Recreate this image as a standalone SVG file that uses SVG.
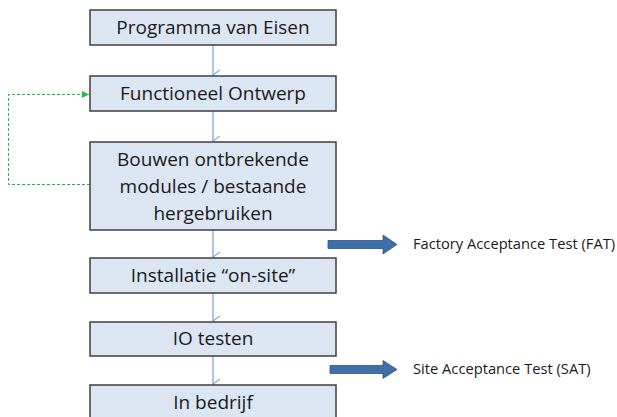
<svg xmlns="http://www.w3.org/2000/svg" width="617" height="417" viewBox="0 0 617 417">
<style>
.box{fill:#dce6f2;stroke:#3f3f3f;stroke-width:1.5}
.t{font-family:"Open Sans","Liberation Sans",sans-serif;font-size:19px;fill:#1a1a1a;text-anchor:middle}
.s{font-family:"Open Sans","Liberation Sans",sans-serif;font-size:14.7px;fill:#1a1a1a}
.c{stroke:#8fb2dc;stroke-width:1.5;fill:none}
.g{stroke:#22bb44;stroke-width:1;stroke-dasharray:3,2;fill:none}
.big{fill:#3f6fa8;stroke:#2f5686;stroke-width:0.8}
</style>
<defs>
<marker id="v" markerWidth="12" markerHeight="10" refX="6" refY="9" orient="auto" markerUnits="userSpaceOnUse" viewBox="0 0 12 10">
<path d="M1,2 L6,9 L11,2" fill="none" stroke="#8fb2dc" stroke-width="1.4"/>
</marker>
<marker id="gh" markerWidth="8" markerHeight="8" refX="7" refY="4" orient="auto" markerUnits="userSpaceOnUse" viewBox="0 0 8 8">
<path d="M0,0.5 L7,4 L0,7.5 Z" fill="#22bb44"/>
</marker>
</defs>
<g id="connectors">
<line class="c" x1="213" y1="45" x2="213" y2="75" marker-end="url(#v)"/>
<line class="c" x1="213" y1="111" x2="213" y2="141" marker-end="url(#v)"/>
<line class="c" x1="213" y1="230" x2="213" y2="257" marker-end="url(#v)"/>
<line class="c" x1="213" y1="293" x2="213" y2="321" marker-end="url(#v)"/>
<line class="c" x1="213" y1="356" x2="213" y2="384" marker-end="url(#v)"/>
<polyline class="g" points="90,184.5 8.5,184.5 8.5,94.5 89,94.5" marker-end="url(#gh)"/>
<path class="big" d="M328,240.5 L383,240.5 L383,235 L397,244.5 L383,254 L383,248.5 L328,248.5 Z"/>
<path class="big" d="M330,365.5 L383,365.5 L383,360.5 L397,369.5 L383,378.5 L383,373.5 L330,373.5 Z"/>
</g>
<g id="n1"><rect class="box" x="90" y="10" width="246" height="35"/><text class="t" x="213" y="34">Programma van Eisen</text></g>
<g id="n2"><rect class="box" x="90" y="76" width="246" height="35"/><text class="t" x="213" y="100">Functioneel Ontwerp</text></g>
<g id="n3"><rect class="box" x="90" y="142" width="246" height="88"/><text class="t" x="213" y="166">Bouwen ontbrekende</text><text class="t" x="213" y="193">modules / bestaande</text><text class="t" x="213" y="220">hergebruiken</text></g>
<g id="n4"><rect class="box" x="90" y="258" width="246" height="35"/><text class="t" x="213" y="282">Installatie “on-site”</text></g>
<g id="n5"><rect class="box" x="90" y="322" width="246" height="34"/><text class="t" x="213" y="345">IO testen</text></g>
<g id="n6"><rect class="box" x="90" y="385" width="246" height="40"/><text class="t" x="213" y="409">In bedrijf</text></g>
<g id="labels">
<text class="s" x="413" y="249">Factory Acceptance Test (FAT)</text>
<text class="s" x="413" y="374">Site Acceptance Test (SAT)</text>
</g>
</svg>
